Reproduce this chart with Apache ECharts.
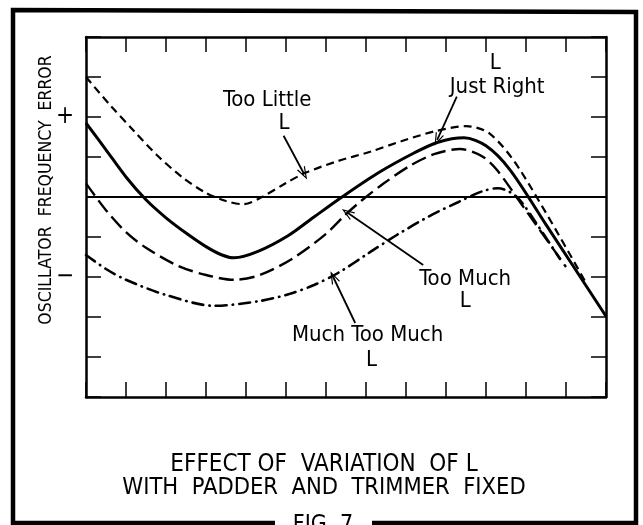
<!DOCTYPE html>
<html>
<head>
<meta charset="utf-8">
<script src="https://cdn.jsdelivr.net/npm/echarts@6/dist/echarts.min.js"></script>
<style>
    html, body { margin: 0; padding: 0; background: #fff; }
    #chart { width: 643px; height: 525px; }
</style>
</head>
<body>
<div id="chart"></div>
<script>
// Curves, [x, frequency error] in tick units
const tooLittleL = [[0, 3.0], [0.6, 2.3], [1.2, 1.65], [1.77, 1.05], [2.4, 0.5], [3.0, 0.1], [3.5, -0.1], [3.93, -0.18],
    [4.4, 0.0], [5.0, 0.35], [5.5, 0.61], [6.3, 0.9], [7.1, 1.13], [7.9, 1.4], [8.75, 1.65], [9.5, 1.77], [10.1, 1.58],
    [10.85, 0.68], [12.5, -2.15]];
const justRightL = [[0, 1.85], [0.5, 1.18], [1.0, 0.5], [1.5, -0.07], [2.0, -0.52], [2.5, -0.9], [3.0, -1.24], [3.4, -1.45],
    [3.7, -1.52], [4.3, -1.36], [5.05, -0.97], [5.7, -0.5], [6.4, 0.0], [7.3, 0.6], [8.2, 1.1], [8.8, 1.37], [9.45, 1.48],
    [10.0, 1.28], [10.6, 0.68], [11.5, -0.69], [13.0, -2.98]];
const tooMuchL = [[0, 0.34], [0.5, -0.33], [1.0, -0.88], [1.5, -1.27], [2.3, -1.72], [3.0, -1.95], [3.7, -2.07], [4.35, -1.95],
    [5.18, -1.53], [6.0, -0.92], [6.5, -0.43], [6.9, -0.08], [7.43, 0.33], [8.1, 0.78], [8.7, 1.07], [9.35, 1.2], [9.9, 1.02],
    [10.27, 0.68], [10.93, -0.24], [12.0, -1.75]];
const muchTooMuchL = [[0, -1.45], [0.5, -1.8], [1.0, -2.07], [2.0, -2.45], [3.2, -2.72], [4.35, -2.6], [5.1, -2.42],
    [5.7, -2.2], [6.3, -1.9], [7.1, -1.38], [7.77, -0.95], [8.6, -0.47], [9.3, -0.13], [9.9, 0.14], [10.3, 0.22],
    [10.77, 0.0], [11.3, -0.72], [11.85, -1.55]];

// Axis ranges and the two marked tick labels
const xRange = [0, 13];
const yRange = [-5, 4];
const yTickLabels = { '2': '+', '-2': '\u2212' };

const FONT = '"DejaVu Sans Condensed", "DejaVu Sans", sans-serif';
const ARROW = 'path://M0,0 L5,13 L3.6,13 L0,3.5 L-3.6,13 L-5,13 Z';

// Arrow from a label to its curve: [from, to, curveness]
const arrows = {
    tooLittle: [[4.94, 1.53], [5.45, 0.58], 0],
    justRight: [[9.27, 2.51], [8.78, 1.43], 0.1],
    tooMuch: [[8.43, -1.7], [6.53, -0.39], -0.22],
    muchTooMuch: [[6.73, -3.15], [6.18, -2.0], 0]
};

// Curve labels, anchored at their centre in data units
const curveLabels = [
    { text: 'Too Little', at: [4.53, 2.43] },
    { text: 'L', at: [4.95, 1.85] },
    { text: 'L', at: [10.23, 3.35] },
    { text: 'Just Right', at: [10.28, 2.75] },
    { text: 'Too Much', at: [9.48, -2.05] },
    { text: 'L', at: [9.48, -2.6] },
    { text: 'Much Too Much', at: [7.04, -3.45] },
    { text: 'L', at: [7.14, -4.08] }
];

function arrowLine(a) {
    return [
        { coord: a[0], symbol: 'none' },
        { coord: a[1], symbol: ARROW, symbolSize: [9, 13], lineStyle: { curveness: a[2] } }
    ];
}

function axisX(position) {
    return {
        type: 'value', min: xRange[0], max: xRange[1], interval: 1, position: position,
        axisLine: { show: true, onZero: false, lineStyle: { color: '#000', width: 2.5 } },
        axisTick: { show: true, inside: true, length: 15, lineStyle: { color: '#000', width: 1.5 } },
        axisLabel: { show: false },
        splitLine: { show: false }
    };
}

function axisY(position, labels) {
    return {
        type: 'value', min: yRange[0], max: yRange[1], interval: 1, position: position,
        axisLine: { show: true, onZero: false, lineStyle: { color: '#000', width: 2.5 } },
        axisTick: { show: true, inside: true, length: 15, lineStyle: { color: '#000', width: 1.5 } },
        axisLabel: {
            show: labels, margin: 12, color: '#000', fontSize: 24, fontFamily: FONT,
            formatter: v => yTickLabels[String(v)] || ''
        },
        splitLine: { show: false }
    };
}

function curve(data, width, dash, cap, marks) {
    return {
        type: 'line', data: data, smooth: 0.3, symbol: 'none', silent: true,
        lineStyle: { color: '#000', width: width, type: dash, cap: cap || 'butt' },
        markLine: {
            silent: true, symbol: ['none', 'none'], animation: false,
            label: { show: false },
            lineStyle: { color: '#000', width: 1.8, type: 'solid' },
            data: marks
        }
    };
}

const chart = echarts.init(document.getElementById('chart'));
chart.setOption({
    animation: false,
    backgroundColor: '#fff',
    grid: { left: 86, top: 37, width: 520, height: 360 },
    xAxis: [axisX('bottom'), axisX('top')],
    yAxis: [axisY('left', true), axisY('right', false)],
    series: [
        curve(justRightL, 3, 'solid', null, [
            [{ coord: [0, 0], symbol: 'none' }, { coord: [13, 0], symbol: 'none', lineStyle: { width: 2 } }],
            arrowLine(arrows.justRight)
        ]),
        curve(tooLittleL, 2.2, [8, 5], null, [arrowLine(arrows.tooLittle)]),
        curve(tooMuchL, 2.4, [15, 6], null, [arrowLine(arrows.tooMuch)]),
        curve(muchTooMuchL, 2.6, [11, 6, 0.5, 6], 'round', [arrowLine(arrows.muchTooMuch)])
    ]
});

// Frame, captions and the curve labels
const textStyle = (text, x, y, size, extra) => Object.assign({
    type: 'text', x: x, y: y, silent: true,
    style: { text: text, fill: '#000', font: size + 'px ' + FONT, align: 'center', verticalAlign: 'middle' }
}, extra || {});

const graphics = [
    {
        type: 'polyline', silent: true,
        shape: { points: [[275, 523], [13, 523], [13, 10], [636, 12], [636, 523], [372, 523]] },
        style: { stroke: '#000', lineWidth: 4.5, fill: null }
    },
    textStyle('OSCILLATOR  FREQUENCY  ERROR', 46, 190, 17.5, { rotation: Math.PI / 2 }),
    textStyle('EFFECT OF  VARIATION  OF L', 324, 465, 24),
    textStyle('WITH  PADDER  AND  TRIMMER  FIXED', 324, 488, 23.5),
    textStyle('FIG. 7', 323, 525, 23)
];

curveLabels.forEach(l => {
    const p = chart.convertToPixel({ gridIndex: 0 }, l.at);
    graphics.push(textStyle(l.text, p[0], p[1], 22));
});

chart.setOption({ graphic: graphics });
</script>
</body>
</html>
